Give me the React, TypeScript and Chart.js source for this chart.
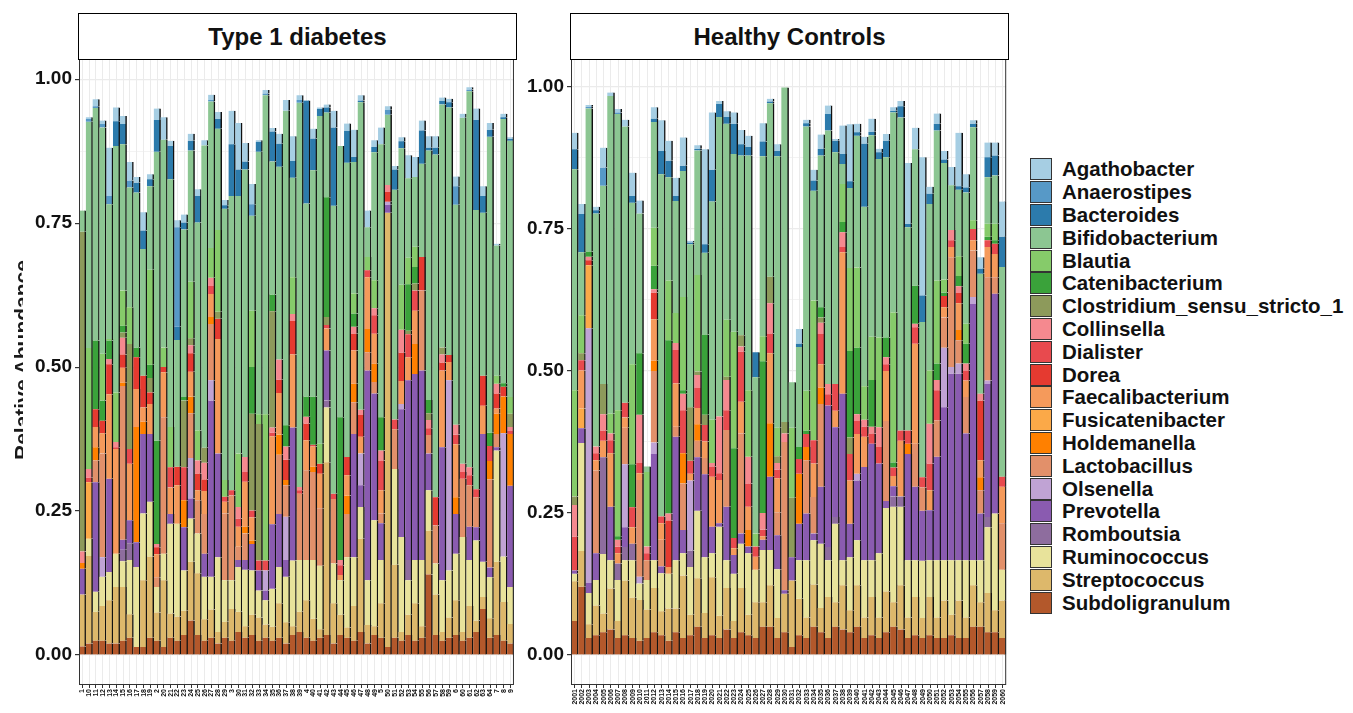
import React, { useEffect, useRef } from 'react';
import { Chart, registerables } from 'chart.js';

Chart.register(...registerables);

const FONT = '"Liberation Sans", Arial, Helvetica, sans-serif';

const GENERA = [
  'Agathobacter', 'Anaerostipes', 'Bacteroides', 'Bifidobacterium', 'Blautia',
  'Catenibacterium', 'Clostridium_sensu_stricto_1', 'Collinsella', 'Dialister', 'Dorea',
  'Faecalibacterium', 'Fusicatenibacter', 'Holdemanella', 'Lactobacillus', 'Olsenella',
  'Prevotella', 'Romboutsia', 'Ruminococcus', 'Streptococcus', 'Subdoligranulum',
];

const COLORS = [
  '#a6cee3', '#5799c7', '#2c7bac', '#8cc692', '#86cb6a',
  '#3aa23a', '#8d9a5b', '#f5898f', '#e84a4e', '#e53a30',
  '#f59a5b', '#fba948', '#ff8000', '#e2906a', '#c0a3d4',
  '#8a5bb0', '#8e6d9e', '#e8e39b', '#ddb86b', '#b3582b',
];

// ---------- sample labels ----------
const t1dSamples = [
  '1', '10', '11', '12', '13', '14', '15', '16', '17', '18', '19',
  '2', '20', '21', '22', '23', '24', '25', '26', '27', '28', '29',
  '3', '30', '31', '32', '33', '34', '35', '36', '37', '38', '39',
  '4', '40', '41', '42', '43', '44', '45', '46', '47', '48', '49',
  '5', '50', '51', '52', '53', '54', '55', '56', '57', '58', '59',
  '6', '60', '61', '62', '63', '64', '7', '8', '9',
];

const hcSamples = [
  '2001', '2002', '2003', '2004', '2005', '2006', '2007', '2008', '2009', '2010',
  '2011', '2012', '2013', '2014', '2015', '2016', '2017', '2018', '2019', '2020',
  '2021', '2022', '2023', '2024', '2025', '2026', '2027', '2028', '2029', '2030',
  '2031', '2032', '2033', '2034', '2035', '2036', '2037', '2038', '2039', '2040',
  '2041', '2042', '2043', '2044', '2045', '2046', '2047', '2048', '2049', '2050',
  '2051', '2052', '2053', '2054', '2055', '2056', '2057', '2058', '2059', '2060',
];

const yTickValues = [0, 12.5, 25, 37.5, 50, 62.5, 75, 87.5, 100];

// ---------- Type 1 diabetes (percent) ----------
const t1dAgathobacter = [0, .3, 1.2, .6, 8.4, 2.4, 1.4, 3.2, 1, 3.2, .9, 2, 3.9, .9, 1.2, 1.4, 1.2, 1.2, .9, .9, 1.2, .9, 5.8, 8.1, 3.2, 3.5, .3, .6, .6, 1.7, 1.9, 4.3, .8, 0, 1.7, .3, .5, 2.9, 0, 1.3, 4.7, .9, 2.9, 1.2, 2.9, .6, .6, .7, 4, 3.5, 1.7, 2, 2, .6, .6, 1.7, .7, .4, 2, 1.7, 1.2, .3, .6, .3];
const t1dAnaerostipes = [0, .5, .3, .6, 1.4, 0, 0, 1.2, 0, 0, 0, 0, 0, 0, 17.3, 0, 0, 0, 0, .3, 0, 0, 0, 0, 0, 2, 0, .3, 0, 0, 0, 0, .5, 0, 0, 0, 0, 0, 0, 0, 0, 0, 0, 0, 0, .9, 0, 0, 0, 0, 0, 0, 0, 0, 0, 3.2, 0, .3, 0, 0, 0, 0, 0, 0];
const t1dBacteroides = [0, 0, 0, 0, 0, 4.3, 3.5, 0, 1.7, 3.2, 1.2, 5.5, 0, 5.8, 2.3, 1.2, 1.7, 4.6, 0, 0, 1.7, .6, 9, 4.6, 1.4, 0, 1.7, 0, 5.2, 4, 0, 2.9, 0, 17.9, 5.5, 1.2, .9, 13.6, 0, 5.5, .9, .3, 0, .9, 0, 0, 3.5, 1.2, 0, 0, 5.8, .5, 1.2, .6, .9, 0, 0, 0, 15.6, 2.9, 1.2, 0, .3, .3];
const t1dBifidobacterium = [3.7, 39.3, 40.4, 39.3, 23.4, 42.8, 25.4, 20.8, 26.9, 22, 14.5, 50.2, 36.1, 43, 22, 29.1, 22.8, 36.1, 52.5, 25.4, 17.6, 47.1, 51.1, 44.7, 49.9, 16.5, 45.6, 55.4, 23.1, 33.5, 54.6, 17.3, 66.7, 33.5, 39.3, 56.9, 14.7, 50, 47.1, 51.1, 22.8, 53.4, 5.2, 22.2, 47.4, 12.2, 39.9, 23.7, 13.8, 12.1, 16.2, 43.3, 59.5, 42.2, 43, 38.2, 60.1, 65.3, 48.5, 28.3, 51.4, 22.6, 45.9, 44.5];
const t1dBlautia = [0, 21, 0, 8.1, .3, 8.6, 6.1, 6.4, 0, 0, 16.5, 0, 3.4, 7, 0, 0, 9.8, 5.2, 0, 5.2, 14.2, 2.9, 0, 9.3, 0, 9.8, 1.7, 25.4, 0, 0, 0, 6.4, 0, 0, 0, 3.5, 0, 0, 0, 0, 3.5, 0, 2.3, 4.9, 0, 0, 0, 7.8, 4.6, 3.5, 0, 0, 0, 0, 0, 0, 0, 0, 0, 0, 0, 1.4, 0, 2.9];
const t1dCatenibacterium = [0, 0, 11.9, 3.5, 3.2, 0, 1.2, 0, 1.7, 0, 2.3, 17.9, 0, 0, 0, .6, 0, 0, 0, 0, 0, 0, 0, 0, 0, 8.1, 0, 0, 2.9, 0, 3.7, 0, 0, 3.5, 8.4, 0, 20.8, 0, 24.8, 0, 2.3, 0, 0, 0, 5.8, 0, 0, 0, 8.1, 2.9, 0, 2.3, 0, 0, 0, 0, 0, 0, 0, 0, 2.3, 0, .6, 0];
const t1dClostridium = [55.5, 0, 0, 0, 0, 0, .9, 18.2, 0, 0, 2.5, 0, 0, 0, 0, 11.6, 1.2, 0, 2.6, 0, 1.2, 0, 0, 0, 0, 16.8, 23.7, 0, 20.2, 0, 0, 0, 0, 0, 0, 0, 1.4, 0, 0, 0, 0, 0, 0, 0, 0, 0, 0, 0, .6, 1.2, 0, 1.2, 0, 1.2, 0, 0, 0, 0, 0, 0, 0, 0, 0, 2.3];
const t1dCollinsella = [2, 1.5, 0, 0, .9, .9, 2.9, 0, 0, 0, 0, .6, 0, 0, 0, 0, 1.4, 2.3, 2.9, 1.4, 0, 0, 0, 2, 2.6, 0, 0, 0, .9, 3.5, 2.3, 1.2, .6, 1.2, 0, 0, 0, 0, .9, 0, 1.2, .9, 0, 1.2, 1.7, 1.2, 0, 4, 0, 0, 0, 1.4, 0, 1.4, 0, 1.7, 1.4, 1.4, 0, 0, 0, 1.7, 0, .6];
const t1dDialister = [0, .8, 0, 0, 0, .3, 0, 2.6, 0, 0, 0, 0, 0, 3.5, 0, 5.7, 0, 0, 0, 1.4, 0, .9, .9, 1.4, 1.7, 1.2, 1.7, 1.7, .6, 0, 0, 0, .6, 0, .3, 0, .6, .9, 1.7, 0, 0, 0, 1.2, 3.2, 5.2, 0, 1.7, 0, 4, 3.5, 0, 1.2, 0, 0, 0, 1.7, 1.2, 1.7, 1.4, 0, 2.6, 0, 0, .6];
const t1dDorea = [0, 0, 3.1, 2.2, 5.2, 0, 2.3, 0, 5.5, 5.5, 2, 1.2, .9, 0, 3.2, 0, 3.2, 2.9, 2, 0, 3.5, 0, 0, 0, 0, 0, 0, 0, 0, 2.3, 3.5, 5.8, 0, 2.9, 0, 1.7, 0, 0, 0, 3.2, 2.9, 3.8, 0, 0, 0, 1.7, 0, 4.9, 0, 0, 5.8, 0, 4.9, 1.4, 1.2, 0, 0, 0, 0, 5.2, 0, 2.6, 1.7, 0];
const t1dFaecalibacterium = [0, 0, 3.5, 3.5, 14.7, 18.2, 2.6, 9.8, 6.6, 2.5, 5.2, 4, 7.8, 4.6, 6.7, 0, 4.3, 1.7, 4, 4, 19.9, 2, 0, 3.5, 7.8, 4, 0, 0, 15.3, 7.2, 0, 12.7, 0, 5.2, 3.5, 6, 3.8, 0, .9, 3.5, 5.8, 2.9, 9, 5.2, 4, 0, 0, 4, 4, 5.8, 0, 0, 0, 13.3, 3.2, 9.2, 0, 0, 0, 4.9, 0, .9, 0, 0];
const t1dFusicatenibacter = [0, 9.8, 0, 0, 0, 0, 0, 0, 0, 0, 0, 0, 0, 0, 0, 0, 0, 0, 0, 0, 0, 0, 0, 0, 0, 0, 0, 0, 0, 0, 0, 0, 0, 0, 0, 0, 0, 0, 0, 0, 0, 0, 0, 0, 0, 0, 0, 0, 0, 0, 0, 0, 0, 0, 0, 0, 0, 0, 0, 0, 0, 0, 0, 0];
const t1dHoldemanella = [1, 0, 2.3, 0, 0, 0, .6, 0, 20, 2.1, 0, 0, 0, 0, 0, 4.7, 2.9, 0, 0, 1.2, 0, 0, 0, 0, 1.2, .6, 0, 0, 0, 3.5, .9, 0, 0, 0, .9, 0, 0, 0, 0, 3.2, 3.2, 0, 4, 3.2, 0, 0, 0, 0, 0, 5.2, 0, 0, 0, 0, 0, 2.9, 0, 0, 0, 0, 3.2, 3.5, 6.4, 9];
const t1dLactobacillus = [0, 0, 3.8, 18, 0, 0, 26.7, 0, 0, 0, 0, 1.7, 23.7, 0, 0, 0, 7.8, 5.8, 6.9, 9.8, 0, 11.6, 14.7, 2.3, 4.6, 0, 0, 0, 0, 10.3, 5.5, 0, 11.5, 15.6, 15.3, 10, 0, 11.2, 0, 7.5, 5.5, 0, 3.2, 2, 1.7, 0, 6.9, 0, 0, 0, 13.9, 3.2, 6.6, 0, 0, 0, 10.1, 7.2, 5.2, 0, 15.3, 2.3, 0, 0];
const t1dOlsenella = [0, 0, 0, 3.4, 0, 0, 0, 0, 0, 0, 0, 0, 0, 0, 0, 0, 7, 0, 0, 3.5, 0, 0, 0, 0, 0, 0, 0, 3.5, 0, 0, 7.5, 0, 0, 0, 0, 0, 0, 0, 0, 0, 0, 5.5, 0, 0, 0, .5, 0, .9, 0, 0, 0, 0, 0, 0, 33, 0, 0, 0, 0, 0, 0, 0, 21.4, 0];
const t1dPrevotella = [4.5, 0, 19, 0, 16.2, 0, 1.7, 4, 4.3, 13.8, 11.8, 0, 0, 1.7, 0, 7.5, 3.5, 0, 4, 30.6, 18, 0, 0, 1.2, 1.7, 4.6, 3.5, 1.7, 11.2, 9.2, 2.9, 23.1, 0, 0, 0, 0, 8.7, 0, 0, 0, 21.4, 3.8, 36.4, 22, 6.4, 1.4, 0, 22.2, 31.2, 32.3, 32.9, 6.4, 0, 23.1, 0, 6.9, 0, 5.8, 2.3, 22.2, 1.7, .6, 0, 17.6];
const t1dRomboutsia = [0, 0, 0, 0, 0, 0, 2, 2.9, 0, 0, 0, 0, 0, 0, 0, 0, 0, 0, 0, 0, 0, 0, 0, 0, 0, 0, 0, 0, 0, 0, 0, 0, 0, 0, 0, 0, 1.2, 0, 0, 0, 0, 0, 0, 0, 0, 0, 0, 0, 3.5, 0, 0, 0, 0, 0, 0, 0, 0, 0, 0, 0, 0, 0, 0, 0];
const t1dRuminococcus = [0, 3, 3.5, 5.1, 4.9, 5.8, 4.5, 9.4, 13.9, 11.6, 9.5, 4.4, 4.6, 15.6, 16.1, 7, 7.5, 6.9, 7.4, 5.7, 13, 7.2, 5, 7.8, 9.8, 7.7, 4.7, 4.2, 6.6, 6.3, 7.9, 11.4, 9, 7, 10.2, 11, 9.5, 6.9, 6, 12.2, 8.5, 5.5, 7.8, 18.4, 7.5, 0, 16.6, 16.5, 6, 7.5, 11.5, 7, 5.4, 9, 8.2, 8.1, 16.5, 8, 13.9, 6.1, 7.1, 19.3, 7.9, 6.4];
const t1dStreptococcus = [9, 15.2, 5, 6, 7.5, 9.8, 9.3, 4.1, 0, 11.6, 14.1, 4.9, 11.6, 4.2, 4.2, 4.2, 10.2, 10.7, 3.7, 4.9, 2, 2.8, 5.5, 3.5, 2, 3.5, 4, 2.3, 2.4, 6, 3.7, 1.5, 3.5, 6.5, 3.8, 1.5, 30, 7, 3.5, 1.8, 6, 16.2, 3.2, 1.5, 6, 75.4, 12.7, 1.5, 3.5, 6.5, 2, 7.6, 7, 1.5, 3.5, 6, 1.5, 5.5, 2, 2.1, 3.4, 12.7, 6.7, 3.4];
const t1dSubdoligranulum = [1.5, 2, 2.5, 2.5, 2, 2, 2.5, 3, 1.4, 1.4, 3, 2.5, 1.4, 3, 2.5, 3.5, 6, 3.5, 2.5, 3, 2, 3, 2.5, 4, 3, 3.5, 2.5, 3, 2.5, 3, 2, 3.5, 4, 3, 2.5, 3, 3.5, 2, 3.5, 3, 2.5, 4, 2, 3.5, 3, 1.4, 3, 2.5, 3.5, 2.5, 3, 14, 3.5, 2.5, 3, 3.5, 2.5, 3, 4, 8, 3, 3.5, 2.5, 2];

// ---------- Healthy Controls (percent) ----------
const hcAgathobacter = [2.9, 1.8, .3, .6, 3.5, .6, .6, 1.2, 4.1, 2.3, 0, 2, 5.4, 3.5, 3.2, 5, .3, .6, 16.7, 10.1, .5, 1, 2, 2.5, 2, 0, 3.2, .5, 1.2, 0, 0, 2.6, .6, 1.9, 2.5, 1.5, .3, 5, 10, 1.5, 1.2, 2.3, .6, 1.2, .6, .9, 10.7, 3.8, 24.3, 1.2, 1.8, 1.5, 3.2, 9.4, 2.3, .6, 2, 2.6, 2.3, 6.2];
const hcAnaerostipes = [0, 0, .3, 0, 3.2, 0, .3, 0, 0, 0, 0, 0, 0, 0, 0, 0, 0, 0, 0, 0, 0, 0, 0, 0, 0, 0, 0, 0, 0, 0, 0, 0, 0, 0, 0, 0, 0, 0, 0, 0, 0, 0, 0, 0, 0, 0, 0, 0, 0, 0, 0, 0, 0, 0, 0, 0, 0, 0, 0, 0];
const hcBacteroides = [3.5, 6.7, 0, .6, 0, 0, 0, 0, 1.2, 0, 0, .6, 4.1, 2.9, .9, .9, .3, .3, 1.5, 5.6, 2.3, 1.2, 5.3, 2, 1.5, 4.4, 2.6, .3, .9, 0, 0, .6, .6, 1.8, 1.2, 2.9, 2, 1.8, 1.2, .6, 11.1, .6, 1.2, 2.9, .3, 2, .6, 0, 4.7, 1.8, 1.2, .6, 0, .6, .9, .6, .9, 3.5, 3.5, 5.3];
const hcBifidobacterium = [38.9, 11.1, 25.2, 41, 34.9, 55.9, 52.1, 48.6, 28.4, 24.6, 1, 18.6, 60.2, 18.2, 19.7, 22.2, 28.7, 21.9, 14.4, 38.4, 52.7, 34.5, 31.3, 31.6, 41.3, 27.5, 31.7, 30.5, 47.8, 58.9, 8, 17.6, 46.5, 19.3, 26.7, 44.6, 40.8, 3.5, 14.1, 23.2, 31.6, 35.5, 31.4, 31.7, 35.2, 55.1, 35.8, 24, 27.3, 29.3, 26.4, 20.5, 7.9, 11.7, 23.1, 16.4, 21.1, 8.2, 8.5, 36.9];
const hcBlautia = [18.7, 6.7, 0, 0, 0, 3.5, 22.2, 0, 17.6, 0, 13.1, 6.7, 0, 10.5, 5.3, 16.4, 0, 17, 0, 7.6, 0, 10, 20.5, 0, 11.7, 2.3, 4.4, 0, 5, 0, 12.3, 0, 7, 24.6, 0, 0, 0, 6.7, 14.6, 14.1, 5.9, 7.6, 15.8, 0, 26.4, 0, 0, 0, 0, 9.4, 14.6, 2.3, 0, 3.5, 3.5, 1.5, 0, 2.3, 2.9, 0];
const hcCatenibacterium = [0, 0, .9, 0, 0, 0, .6, 0, 7.6, 10.8, 0, 4.1, 0, 30.5, 0, .6, 0, 0, 14.1, 0, 0, 0, 15.8, 0, 0, 0, 26.7, 0, 0, 0, 0, 2.1, .6, 0, 1.8, 0, 0, 1.8, 15.2, 11.7, 0, 8.2, 0, 3.5, .9, 0, 0, 6.7, 0, 0, 2.9, .6, 0, 1.8, 3.5, 0, 0, .6, .6, 0];
const hcClostridium = [1.5, 1.2, 0, 0, 5.3, 0, 0, 0, 0, 0, 0, 0, 0, 0, 0, 0, 9.4, .6, 1.8, 0, 0, .6, 0, 2, 0, 0, 0, 4.7, 1.2, 2, 10.5, 0, 0, 0, .9, 0, 0, 0, 2.9, 0, 0, 0, 0, 0, 0, 0, 0, 0, 0, 0, 0, 0, 0, 0, 0, 0, 0, 0, 0, 0];
const hcCollinsella = [5.6, 0, .6, 1.2, 2.9, 1.2, 1.2, 0, 0, 8.5, 1.2, .6, 0, 1.2, 1.2, 2.9, 0, 2.3, 0, .6, 10, 5.3, 0, .9, 4.7, 0, 2.9, 5.3, 1.2, 1.5, 0, 0, 0, 0, 2, 1.8, 0, 2.6, 0, 1.2, 1.2, 1.2, 3.5, 1.2, 0, 0, 0, .6, 0, 7, 1.8, 0, 1.8, 1.2, 1.2, 0, 1.2, 0, 0, 0];
const hcDialister = [5.9, 1.8, 0, 1.2, 1.8, 2.3, 1.2, 2.6, 3.5, 1.8, 1.2, 0, 1.2, 0, 5.9, 7.6, 2.3, 3.5, 2.9, 1.8, 1.2, 3.5, 1.8, 8.8, 4.1, 1.8, 1.2, 3.5, 1.5, 0, 0, 2.6, 2.3, 4.1, 5.3, 2, 4.7, .9, 4.7, 2.3, 1.8, 1.8, 2.9, 1.2, 1.5, 1.8, 2.3, 2.9, 1.8, 4.7, 5.3, 0, 1.2, 0, 1.8, 2, 0, 1.2, 1.8, 1.8];
const hcDorea = [0, 0, .9, 0, 0, 0, 0, 0, 0, 0, 0, 4.7, 0, 8.2, 0, 0, 0, 0, 0, 0, 0, 0, 0, 0, 0, 0, 0, 0, 0, 0, 0, 0, 0, 0, 0, 0, 0, 0, 0, 0, 0, 0, 0, 0, 0, 0, 0, 0, 0, 0, 0, 2, 0, 1.8, 0, 0, 10.5, 0, 0, 0];
const hcFaecalibacterium = [0, 6.7, 0, 1.8, 2.9, 9.4, 1.8, 1.8, 2.9, 1.2, 0, 7.3, 2.9, 1.2, 7.6, 0, 1.2, 2.9, 2.9, 8.8, 7.6, 0, 1.2, 5.6, 4.1, 2.3, .6, 12.3, 6, 0, 0, 0, 0, 5.9, 4.1, 0, 2.9, 24.9, 7.6, 7, 5.3, 0, 0, 8.8, 1.8, 9.8, 0, 17.6, 0, 3.5, 0, 1.8, 1.8, 4.7, 2.9, 1.8, 3, 5.3, 4.1, 6.4];
const hcFusicatenibacter = [0, 3.5, 11.1, 0, 0, 0, 0, 0, 0, 0, 0, 0, 0, 0, 0, 0, 0, 0, 0, 0, 0, 0, 0, 0, 0, 0, 0, 0, 0, 0, 0, 0, 0, 0, 0, 0, 0, 0, 0, 0, 0, 0, 0, 0, 0, 0, 0, 0, 0, 0, 0, 0, 0, 0, 0, 0, 0, 0, 0, 0];
const hcHoldemanella = [0, 0, 0, 0, 0, 0, 0, 0, 0, 0, 0, 1.8, 0, 0, 0, 5.3, 0, 2.9, 0, 0, 0, 0, 0, 0, 2.9, 0, 0, 9.4, 0, 0, 0, 8.8, 2.3, 0, 2.9, 0, 0, 0, 0, 0, 0, 0, 0, 0, 0, 0, 1.8, 0, 0, 0, 0, 0, 0, 1.8, 0, 0, 2.3, 0, 0, 0];
const hcLactobacillus = [0, 0, 0, 14.6, 0, 0, 0, 6.4, 0, 17, 3.5, 12.6, 4.7, 0, 1.8, 8.2, 0, 2.9, 2.9, 0, 0, 13.5, 0, 17.6, 0, 0, 0, 0, 4, 26.1, 0, 0, 9.4, 6.4, 14.6, 0, 0, 0, 0, 0, 0, 0, 0, 14.1, 0, 0, 0, 7.6, 4.1, 0, 6.4, 5.3, 19.3, 4.1, 6.4, 8.2, 4.1, 18.2, 2.9, 8.2];
const hcOlsenella = [0, 0, 44.8, 0, 0, 0, 0, 11.1, 0, 1.2, 0, 2, 0, 0, 0, 0, 12.3, 0, 0, 0, 0, 0, 0, 0, 0, 0, 0, 0, 0, 0, 0, 0, 0, 0, 0, 0, 0, 0, 0, 1.2, 0, 0, 0, 0, 0, 0, 0, 0, 0, 0, 0, 10.5, 1.2, 1.8, 0, 1.2, 0, .6, 0, 0];
const hcPrevotella = [.6, 2.6, 1.8, 4.7, 0, 9.4, 0, 3.5, 0, 0, 0, 18.7, 1.2, 0, 21.7, 4.1, 0, 9.4, 14.6, 4.7, .6, 9.4, 3.3, 1.8, 1.2, 0, 1.8, 12.9, 6, .6, 4.1, 6.4, 8.2, 1.2, 10, 24.9, 15.8, 29.3, 5.9, 10.5, 16.4, 20.5, 15.8, 1.2, 1.8, 0, 18.7, 12.9, 8.8, 8.8, 18.2, 26.9, 32.8, 32.8, 22.3, 45.1, 8.2, 23.4, 38.7, 0];
const hcRomboutsia = [0, 0, 0, 0, 17, 0, 2.9, 2.3, 2.9, 0, 0, 0, 0, 0, 0, 0, 2.9, 0, 0, 0, 0, 0, 0, 0, 0, 0, 0, 0, 0, 0, 0, 0, 0, 0, 0, 2.3, 1.2, 0, 0, 0, 0, 0, 0, 0, 1.8, 1.8, 0, 0, 0, 0, 0, 0, 0, 0, 0, 0, 0, 1.8, 0, 0];
const hcRuminococcus = [1.3, 19, 5.5, 4.5, 10.5, 5, 7.2, 3.6, 6.6, 2.9, 5.2, 4.9, 6.7, 6.1, 8.5, 3.9, 8.4, 11.9, 9.8, 4.2, 15.7, 4.9, 8.3, 7.8, 10.8, 5.7, 9.2, 6.2, 8.6, 0, 0, 6.8, 10.1, 7.8, 11.3, 6.5, 13.8, 4.4, 9.3, 7.9, 10.1, 6.5, 11.3, 14.7, 16.8, 13.8, 10.1, 6.5, 10.1, 6.5, 10.1, 7.1, 9.6, 7.1, 10.1, 4.4, 7.4, 11.6, 17, 5.4];
const hcStreptococcus = [7, 6.3, 2.4, 5.2, 3.3, 7.2, 3, 9.6, 7.1, 7.2, 5, 7.8, 4.2, 5.7, 4.2, 11, 3.6, 8.5, 4.4, 10.2, 3.9, 7.3, 3, 7.8, 3.6, 6.3, 4.3, 7.3, 3.5, 6.8, 11.7, 6.4, 3.6, 7.4, 4.3, 7.2, 4.3, 7.8, 3.9, 7.3, 3.6, 6.7, 3.6, 7.2, 4.3, 7.8, 3.6, 6.7, 3.5, 6.7, 3.6, 6.6, 3.6, 6.6, 3.6, 7.3, 4.3, 6.9, 3.9, 6.6];
const hcSubdoligranulum = [6, 12, 3, 3.5, 4, 4.5, 3, 3.5, 3, 2.5, 3, 4, 3.5, 2.5, 4, 3, 3.5, 5, 3, 3.5, 3, 4.5, 3, 4, 3.5, 3, 5, 5, 3, 4, 1.4, 3.5, 3, 5, 4, 3, 5, 4.5, 4, 5, 3, 3.5, 3, 4, 5, 4.5, 3, 3.5, 3, 3.5, 3, 3, 3.5, 3, 3, 5, 5, 4, 4, 3];

const T1D_SERIES = [
  t1dAgathobacter, t1dAnaerostipes, t1dBacteroides, t1dBifidobacterium, t1dBlautia,
  t1dCatenibacterium, t1dClostridium, t1dCollinsella, t1dDialister, t1dDorea,
  t1dFaecalibacterium, t1dFusicatenibacter, t1dHoldemanella, t1dLactobacillus, t1dOlsenella,
  t1dPrevotella, t1dRomboutsia, t1dRuminococcus, t1dStreptococcus, t1dSubdoligranulum,
];

const HC_SERIES = [
  hcAgathobacter, hcAnaerostipes, hcBacteroides, hcBifidobacterium, hcBlautia,
  hcCatenibacterium, hcClostridium, hcCollinsella, hcDialister, hcDorea,
  hcFaecalibacterium, hcFusicatenibacter, hcHoldemanella, hcLactobacillus, hcOlsenella,
  hcPrevotella, hcRomboutsia, hcRuminococcus, hcStreptococcus, hcSubdoligranulum,
];

const panelFrame = {
  id: 'panelFrame',
  afterDraw(chart: any) {
    const { ctx, chartArea: a } = chart;
    ctx.save();
    ctx.strokeStyle = '#333333';
    ctx.lineWidth = 1;
    ctx.strokeRect(a.left + 0.5, a.top + 0.5, a.right - a.left - 1, a.bottom - a.top - 1);
    ctx.restore();
  },
};

function buildChart(canvas: HTMLCanvasElement, labels: string[], series: number[][], yMin: number, yMax: number, axisWidth: number) {
  const datasets = GENERA.map((g, i) => ({
    label: g,
    data: series[i],
    backgroundColor: COLORS[i],
    borderColor: '#111111',
    borderWidth: { top: 0, right: 1.5, bottom: 0, left: 0 },
    borderSkipped: false,
    barPercentage: 1,
    categoryPercentage: 1,
  })).reverse();

  return new Chart(canvas, {
    type: 'bar',
    data: { labels, datasets },
    options: {
      responsive: false,
      animation: false,
      devicePixelRatio: 1,
      layout: { padding: { top: 59, right: 4, left: 0, bottom: 0 } },
      plugins: { legend: { display: false }, tooltip: { enabled: false } },
      scales: {
        x: {
          stacked: true,
          offset: true,
          border: { display: false },
          grid: {
            offset: false,
            color: '#ebebeb',
            lineWidth: 1,
            tickColor: '#333333',
            tickLength: 3,
          },
          ticks: {
            autoSkip: false,
            minRotation: 90,
            maxRotation: 90,
            padding: 1,
            color: '#111111',
            font: { family: FONT, size: 7, weight: 'bold' },
          },
          afterFit: (s: any) => { s.height = 28; },
        },
        y: {
          stacked: true,
          min: yMin,
          max: yMax,
          border: { display: false },
          afterBuildTicks: (s: any) => { s.ticks = yTickValues.map((v) => ({ value: v })); },
          grid: {
            color: '#ebebeb',
            lineWidth: (c: any) => (c.tick && c.tick.value % 25 === 0 ? 1.2 : 0.6),
            tickColor: (c: any) => (c.tick && c.tick.value % 25 === 0 ? '#333333' : 'rgba(0,0,0,0)'),
            tickLength: 4,
          },
          ticks: {
            padding: 3,
            color: '#111111',
            font: { family: FONT, size: 19, weight: 'bold' },
            callback: (v: any) => (Number(v) % 25 === 0 ? (Number(v) / 100).toFixed(2) : ''),
          },
          afterFit: (s: any) => { s.width = axisWidth; },
        },
      },
    },
    plugins: [panelFrame],
  } as any);
}

const stripStyle = (left: number): React.CSSProperties => ({
  position: 'absolute',
  left,
  top: 13,
  width: 439,
  height: 47,
  boxSizing: 'border-box',
  border: '1.5px solid #000',
  background: '#fff',
  display: 'flex',
  alignItems: 'center',
  justifyContent: 'center',
  fontFamily: FONT,
  fontWeight: 'bold',
  fontSize: 24,
  color: '#111',
});

export default function App() {
  const leftRef = useRef<HTMLCanvasElement>(null);
  const rightRef = useRef<HTMLCanvasElement>(null);

  useEffect(() => {
    const c1 = buildChart(leftRef.current!, t1dSamples, T1D_SERIES, -5.2, 103.5, 79);
    const c2 = buildChart(rightRef.current!, hcSamples, HC_SERIES, -5.27, 104.9, 51);
    return () => { c1.destroy(); c2.destroy(); };
  }, []);

  return (
    <div style={{ position: 'fixed', left: 0, top: 0, width: 1353, height: 713, background: '#fff', overflow: 'hidden' }}>
      <canvas ref={leftRef} width={520} height={713} style={{ position: 'absolute', left: 0, top: 0, width: 520, height: 713 }} />
      <canvas ref={rightRef} width={492} height={713} style={{ position: 'absolute', left: 520, top: 0, width: 492, height: 713 }} />
      <div style={stripStyle(78)}>Type 1 diabetes</div>
      <div style={stripStyle(570)}>Healthy Controls</div>
      <div style={{ position: 'absolute', left: 0, top: 0, width: 23, height: 713, overflow: 'hidden' }}>
        <div style={{
          position: 'absolute', left: 22 - 150, top: 360 - 11, width: 300, height: 22, lineHeight: '22px',
          textAlign: 'center', transform: 'rotate(-90deg)', fontFamily: FONT, fontWeight: 'bold', fontSize: 21, color: '#1a1a1a',
        }}>Relative Abundance</div>
      </div>
      <div style={{ position: 'absolute', left: 1030, top: 158 }}>
        {GENERA.map((g, i) => (
          <div key={g} style={{ position: 'absolute', left: 0, top: i * 22.8, height: 22.8, width: 330, display: 'flex', alignItems: 'center' }}>
            <div style={{ width: 22, height: 22, boxSizing: 'border-box', border: '1px solid #333', background: COLORS[i], flex: 'none' }} />
            <div style={{ marginLeft: 10, fontFamily: FONT, fontWeight: 'bold', fontSize: 20.5, color: '#111', whiteSpace: 'nowrap', lineHeight: '22px' }}>{g}</div>
          </div>
        ))}
      </div>
    </div>
  );
}
